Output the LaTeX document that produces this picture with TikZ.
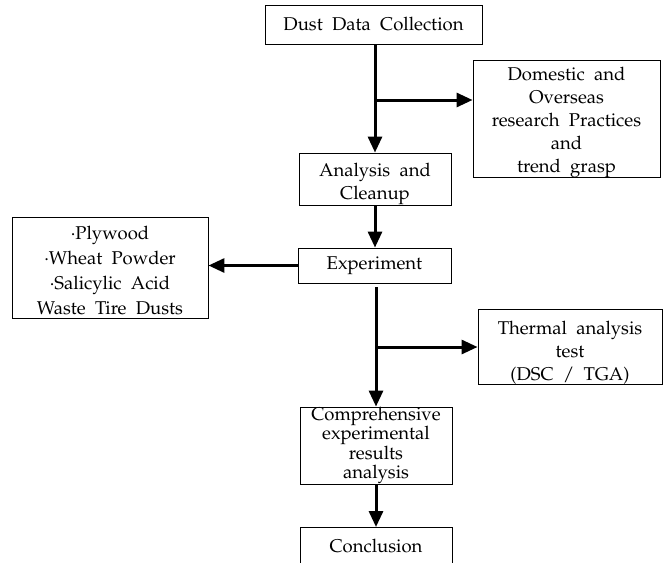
\documentclass[tikz,border=0pt]{standalone}
\usepackage[T1]{fontenc}
\usepackage{mathpazo}
\usetikzlibrary{arrows.meta}
\tikzset{
  box/.style={draw, line width=0.9pt, inner sep=0pt},
  txt/.style={align=center, inner sep=0pt,
    font={\fontsize{18.5}{23}\selectfont\spaceskip=0.5em}},
  flow/.style={line width=3pt, -{Triangle[length=16pt,width=14pt]}}
}
\begin{document}
\begin{tikzpicture}[x=1pt,y=-1pt]
\useasboundingbox (0,0) rectangle (663,562);
\begin{scope}
\clip (0,0) rectangle (663,562);
\node[box, minimum width=217pt, minimum height=39pt] (dust) at (373.5,24.5) {};
\node[txt] (dustT) at (dust.center) {Dust Data Collection};
\node[box, minimum width=187pt, minimum height=117pt] (dom) at (566.5,118.5) {};
\node[txt, yshift=-4pt] (domT) at (dom.center) {Domestic and\\Overseas\\research Practices\\and\\trend grasp};
\node[box, minimum width=152pt, minimum height=52pt] (ana) at (375,179) {};
\node[txt, yshift=-5pt] (anaT) at (ana.center) {Analysis and\\Cleanup};
\node[box, minimum width=153pt, minimum height=35pt] (exp) at (374.5,265.5) {};
\node[txt] (expT) at (exp.center) {Experiment};
\node[box, minimum width=196pt, minimum height=101pt] (mat) at (110,267.5) {};
\node[txt, yshift=-3pt, font={\fontsize{18.5}{25}\selectfont\spaceskip=0.5em}] (matT) at (mat.center) {\textperiodcentered Plywood\\\textperiodcentered Wheat Powder\\\textperiodcentered Salicylic Acid\\Waste Tire Dusts};
\node[box, minimum width=184pt, minimum height=75pt] (thm) at (570,346.5) {};
\node[txt, yshift=-6pt] (thmT) at (thm.center) {Thermal analysis\\test\\(DSC / TGA)};
\node[box, minimum width=152pt, minimum height=77pt] (comp) at (376,445.5) {};
\node[txt, font={\fontsize{18.5}{19.5}\selectfont\spaceskip=0.5em}] (compT) at (comp.center) {Comprehensive\\experimental\\results\\analysis};
\node[box, minimum width=152pt, minimum height=40pt, anchor=north] (conc) at (376,527) {};
\node[txt, anchor=base] (concT) at (376,552) {Conclusion};
\end{scope}
\coordinate (b1) at (375,100);
\coordinate (b2) at (376,347);
\draw[flow] (dust.south -| b1) -- (ana.north -| b1);
\draw[flow] (b1) -- (b1 -| dom.west);
\draw[flow] (ana.south -| b1) -- (exp.north -| b1);
\draw[flow] (exp.west) -- (mat.east |- exp.west);
\draw[flow] ([yshift=-4pt]exp.south -| b2) -- (comp.north -| b2);
\draw[flow] (b2) -- (b2 -| thm.west);
\draw[flow] (comp.south -| b2) -- (conc.north -| b2);
\end{tikzpicture}
\end{document}
